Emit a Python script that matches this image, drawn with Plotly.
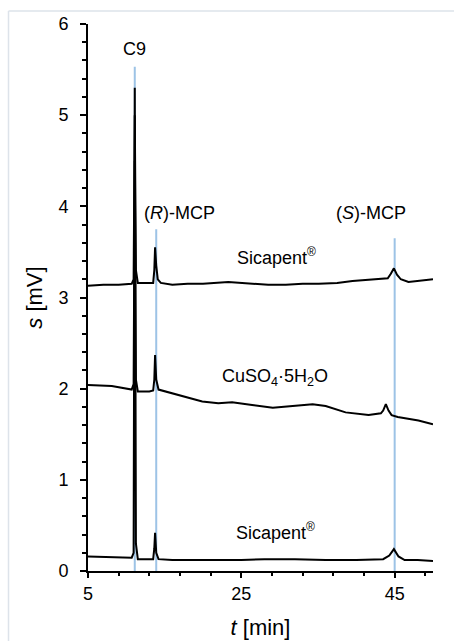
import plotly.graph_objects as go

# ---- data ----
t_top = [5.0, 7.0, 9.0, 10.7, 10.95, 11.1, 11.25, 11.5, 12.5, 13.5, 13.65, 13.75, 13.9, 14.1, 14.5,
         16.0, 18.0, 20.0, 23.3, 26.4, 28.5, 30.8, 33.0, 35.1, 37.5, 39.5, 42.1, 44.1, 44.5, 44.9,
         45.3, 45.8, 46.8, 48.5, 50.0]
v_top = [3.13, 3.14, 3.14, 3.15, 3.2, 5.0, 3.3, 3.16, 3.16, 3.16, 3.3, 3.55, 3.35, 3.2, 3.16,
         3.14, 3.15, 3.15, 3.17, 3.15, 3.14, 3.14, 3.15, 3.15, 3.16, 3.18, 3.20, 3.21, 3.26, 3.32,
         3.25, 3.20, 3.17, 3.19, 3.20]

t_mid = [5.0, 8.1, 10.7, 10.95, 11.1, 11.25, 11.5, 13.0, 13.5, 13.65, 13.75, 13.9, 14.2, 16.8,
         19.9, 22.0, 23.8, 26.4, 29.1, 31.7, 34.3, 36.0, 38.6, 41.6, 43.2, 43.5, 43.85, 44.2, 44.6,
         45.4, 48.1, 50.0]
v_mid = [2.04, 2.03, 1.99, 2.05, 4.5, 2.1, 1.97, 1.97, 1.98, 2.1, 2.37, 2.1, 1.99, 1.93,
         1.86, 1.84, 1.85, 1.82, 1.79, 1.81, 1.83, 1.81, 1.74, 1.71, 1.73, 1.76, 1.83, 1.76, 1.71,
         1.69, 1.65, 1.61]

t_bot = [5.0, 8.0, 10.7, 10.95, 11.1, 11.25, 11.5, 13.0, 13.5, 13.65, 13.75, 13.9, 14.2, 16.0,
         20.0, 25.0, 28.0, 32.0, 36.0, 40.0, 43.5, 44.3, 44.9, 45.5, 46.3, 48.0, 50.0]
v_bot = [0.16, 0.15, 0.146, 0.2, 5.3, 0.3, 0.13, 0.13, 0.13, 0.25, 0.42, 0.2, 0.13, 0.12,
         0.12, 0.12, 0.13, 0.13, 0.12, 0.12, 0.13, 0.17, 0.24, 0.16, 0.12, 0.12, 0.11]

marker_t = [11.1, 13.9, 45.0]
marker_top = [5.53, 3.75, 3.65]

REG = "<span style='font-size:12px'>®</span>"
label_text = ["C9", "(<i>R</i>)-MCP", "(<i>S</i>)-MCP", "Sicapent<sup>" + REG + "</sup>",
              "CuSO<sub>4</sub>·5H<sub>2</sub>O", "Sicapent<sup>" + REG + "</sup>"]
label_t = [11.1, 16.9, 41.9, 29.6, 29.4, 29.4]
label_v = [5.73, 3.93, 3.93, 3.45, 2.12, 0.43]

x_ticks = [5, 25, 45]
y_ticks = [0, 1, 2, 3, 4, 5, 6]

FONT = "Liberation Sans, Arial, sans-serif"
BLUE = "#9dc3e6"

fig = go.Figure()

for t, top in zip(marker_t, marker_top):
    fig.add_trace(go.Scatter(x=[t, t], y=[0, top], mode="lines",
                             line=dict(color=BLUE, width=2), hoverinfo="skip"))

for tx, vy in [(t_top, v_top), (t_mid, v_mid), (t_bot, v_bot)]:
    fig.add_trace(go.Scatter(x=tx, y=vy, mode="lines",
                             line=dict(color="black", width=2)))

for txt, tx, vy in zip(label_text, label_t, label_v):
    fig.add_annotation(x=tx, y=vy, text=txt, showarrow=False,
                       font=dict(family=FONT, size=18, color="black"))

# light frame (left and top edges visible)
fig.add_shape(type="line", xref="paper", yref="paper", x0=-0.2304, y0=1.0238, x1=1.07, y1=1.0238,
              line=dict(color="#dde3ea", width=1.5), layer="above")
fig.add_shape(type="line", xref="paper", yref="paper", x0=-0.2304, y0=1.0238, x1=-0.2304, y1=-0.13,
              line=dict(color="#dde3ea", width=1.5), layer="above")

fig.update_layout(
    width=454, height=641,
    margin=dict(l=88, r=21, t=24, b=70),
    plot_bgcolor="white", paper_bgcolor="white",
    showlegend=False,
    font=dict(family=FONT, size=18, color="black"),
    xaxis=dict(range=[5, 50], tickvals=x_ticks, ticks="outside", ticklen=5, tickwidth=1.5,
               tickcolor="black", showline=True, linecolor="black", linewidth=2,
               showgrid=False, zeroline=False, automargin=False,
               minor=dict(dtick=4, tick0=5, ticks="outside", ticklen=3, tickcolor="black",
                          tickwidth=1.5, showgrid=False),
               title=dict(text="<i>t</i> [min]", standoff=17),
               tickfont=dict(size=18)),
    yaxis=dict(range=[0, 6], tickvals=y_ticks, ticks="outside", ticklen=6, tickwidth=1.5,
               tickcolor="black", showline=True, linecolor="black", linewidth=2,
               showgrid=False, zeroline=False, automargin=False,
               minor=dict(dtick=0.2, tick0=0, ticks="outside", ticklen=4, tickcolor="black",
                          tickwidth=1.5, showgrid=False),
               title=dict(text="<i>s</i> [mV]", standoff=10),
               ticklabelstandoff=8,
               tickfont=dict(size=18)),
)

fig.write_html("out.html", config={"displayModeBar": False},
               post_script="document.body.style.margin='0';document.body.style.overflow='hidden';")
